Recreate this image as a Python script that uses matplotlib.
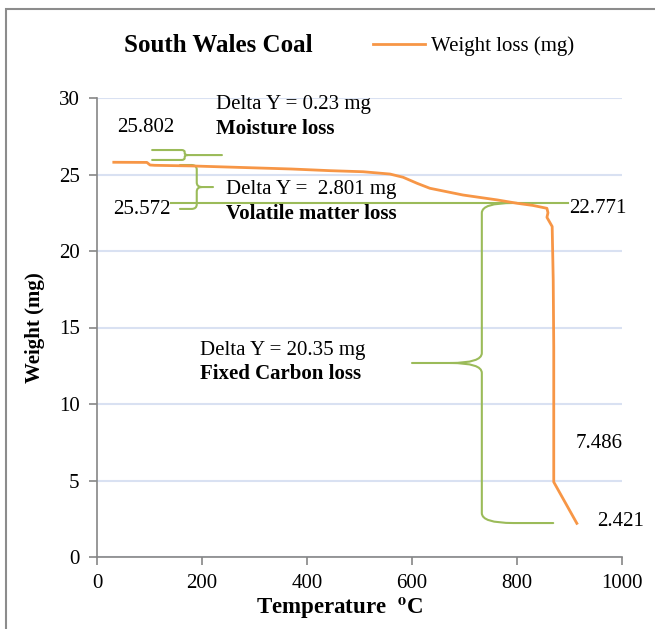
import matplotlib
matplotlib.use("Agg")
import matplotlib.pyplot as plt
from matplotlib.path import Path
from matplotlib.patches import PathPatch, Rectangle
import numpy as np

plt.rcParams['font.family'] = 'serif'
plt.rcParams['font.serif'] = ['Liberation Serif', 'DejaVu Serif']
plt.rcParams['mathtext.fontset'] = 'stix'

# ── TGA curve ──────────────────────────────────
temp_c = [32, 95, 101, 110, 180, 370, 444, 507, 558, 583, 610, 634, 697,
          762, 800, 830, 857, 859, 857, 867, 869, 870, 870, 914]
weight_mg = [25.80, 25.79, 25.62, 25.60, 25.56, 25.36, 25.25, 25.18, 25.03,
             24.82, 24.42, 24.10, 23.66, 23.34, 23.12, 22.98, 22.79, 22.50,
             22.20, 21.60, 18.10, 13.70, 4.90, 2.20]

# value labels: text, x, y
value_labels = ["25.802", "25.572", "22.771", "7.486", "2.421"]
value_x = [38, 30, 899, 912, 952]
value_y = [28.04, 22.68, 22.80, 7.39, 2.35]

# step annotations: normal line, bold line, x, y (normal), y (bold)
step_delta = ["Delta Y = 0.23 mg", "Delta Y =  2.801 mg", "Delta Y = 20.35 mg"]
step_name = ["Moisture loss", "Volatile matter loss", "Fixed Carbon loss"]
step_x = [227, 246, 196]
step_y_delta = [29.55, 24.05, 13.50]
step_y_name = [27.95, 22.42, 11.96]

# braces: spine x, arm end top, arm end bottom, tip x, y top, y bottom, y tip
brace_spine = [167, 190, 733]
brace_arm_top = [105, 158, 800]
brace_arm_bot = [105, 158, 869]
brace_tip = [238, 221, 600]
brace_y_top = [26.60, 25.62, 23.14]
brace_y_bot = [25.95, 22.75, 2.22]
brace_y_tip = [26.27, 24.18, 12.68]

# reference line for the volatile/fixed carbon boundary
ref_x = [140, 897]
ref_y = [23.14, 23.14]

ORANGE = "#F79646"
GREEN = "#9BBB59"
GRID = "#D9E1F2"
AXIS = "#868686"
FS = 15


def brace(ax, xs, xa_top, xa_bot, xt, yt, yb, ym, cx, cy):
    """Curly brace with spine at xs, arms toward xa_*, tip toward xt."""
    da = np.sign(xa_top - xs)
    dt = np.sign(xt - xs)
    verts = [(xa_top, yt), (xs + da * cx, yt),
             (xs, yt), (xs, yt - cy),
             (xs, ym + cy),
             (xs, ym), (xs + dt * cx, ym),
             (xt, ym),
             (xs + dt * cx, ym),
             (xs, ym), (xs, ym - cy),
             (xs, yb + cy),
             (xs, yb), (xs + da * cx, yb),
             (xa_bot, yb)]
    codes = [Path.MOVETO, Path.LINETO,
             Path.CURVE3, Path.CURVE3,
             Path.LINETO,
             Path.CURVE3, Path.CURVE3,
             Path.LINETO,
             Path.MOVETO,
             Path.CURVE3, Path.CURVE3,
             Path.LINETO,
             Path.CURVE3, Path.CURVE3,
             Path.LINETO]
    ax.add_patch(PathPatch(Path(verts, codes), fill=False,
                           edgecolor=GREEN, linewidth=1.5, zorder=3,
                           capstyle='round', joinstyle='round'))


fig = plt.figure(figsize=(6.55, 6.29), dpi=100)
ax = fig.add_axes([97 / 655, 1 - 557 / 629, 525 / 655, 459 / 629])

# outer frame (chart-area border, cut by the image edge on right/bottom)
fig.add_artist(Rectangle((6 / 655, -0.05), 1.2, 1 - 9 / 629 + 0.05,
                         transform=fig.transFigure, fill=False,
                         edgecolor="#8C8C8C", linewidth=1.5))

ax.plot(temp_c, weight_mg, color=ORANGE, linewidth=2.0, zorder=4,
        label="Weight loss (mg)", solid_joinstyle='round')

ax.plot(ref_x, ref_y, color=GREEN, linewidth=1.5, zorder=3)

corner_x = [6, 10, 60]
corner_y = [0.12, 0.3, 0.65]
for i in range(3):
    brace(ax, brace_spine[i], brace_arm_top[i], brace_arm_bot[i], brace_tip[i],
          brace_y_top[i], brace_y_bot[i], brace_y_tip[i],
          corner_x[i], corner_y[i])

for txt, x, y in zip(value_labels, value_x, value_y):
    ax.text(x, y, txt, fontsize=FS, ha='left', va='center')

for d, n, x, yd, yn in zip(step_delta, step_name, step_x, step_y_delta, step_y_name):
    ax.text(x, yd, d, fontsize=FS, ha='left', va='center')
    ax.text(x, yn, n, fontsize=FS, ha='left', va='center', fontweight='bold')

ax.set_xlim(0, 1000)
ax.set_ylim(0, 30)
ax.set_xticks(np.arange(0, 1001, 200))
ax.set_yticks(np.arange(0, 31, 5))
ax.tick_params(axis='both', labelsize=FS, colors=AXIS, labelcolor='black',
               length=5.5, width=1.2, direction='out', pad=7)
ax.grid(axis='y', color=GRID, linewidth=1.5)
ax.set_axisbelow(True)
for side in ('top', 'right'):
    ax.spines[side].set_visible(False)
for side in ('left', 'bottom'):
    ax.spines[side].set_color(AXIS)
    ax.spines[side].set_linewidth(1.2)

ax.set_xlabel(r"Temperature  $^{\mathbf{o}}$C", fontsize=16.5, fontweight='bold')
ax.xaxis.set_label_coords((340 - 97) / 525, (557 - 596) / 459)
ax.set_ylabel("Weight (mg)", fontsize=FS, fontweight='bold')
ax.yaxis.set_label_coords((45 - 97) / 525, 0.5)

fig.text(218 / 655, 1 - 45 / 629, "South Wales Coal", fontsize=18,
         fontweight='bold', ha='center', va='center')
ax.legend(loc='center left', bbox_to_anchor=(373 / 655, 1 - 46 / 629),
          bbox_transform=fig.transFigure, frameon=False, fontsize=FS,
          borderpad=0, borderaxespad=0, handlelength=2.5, handletextpad=0.3)

fig.savefig("out.png", dpi=100)
